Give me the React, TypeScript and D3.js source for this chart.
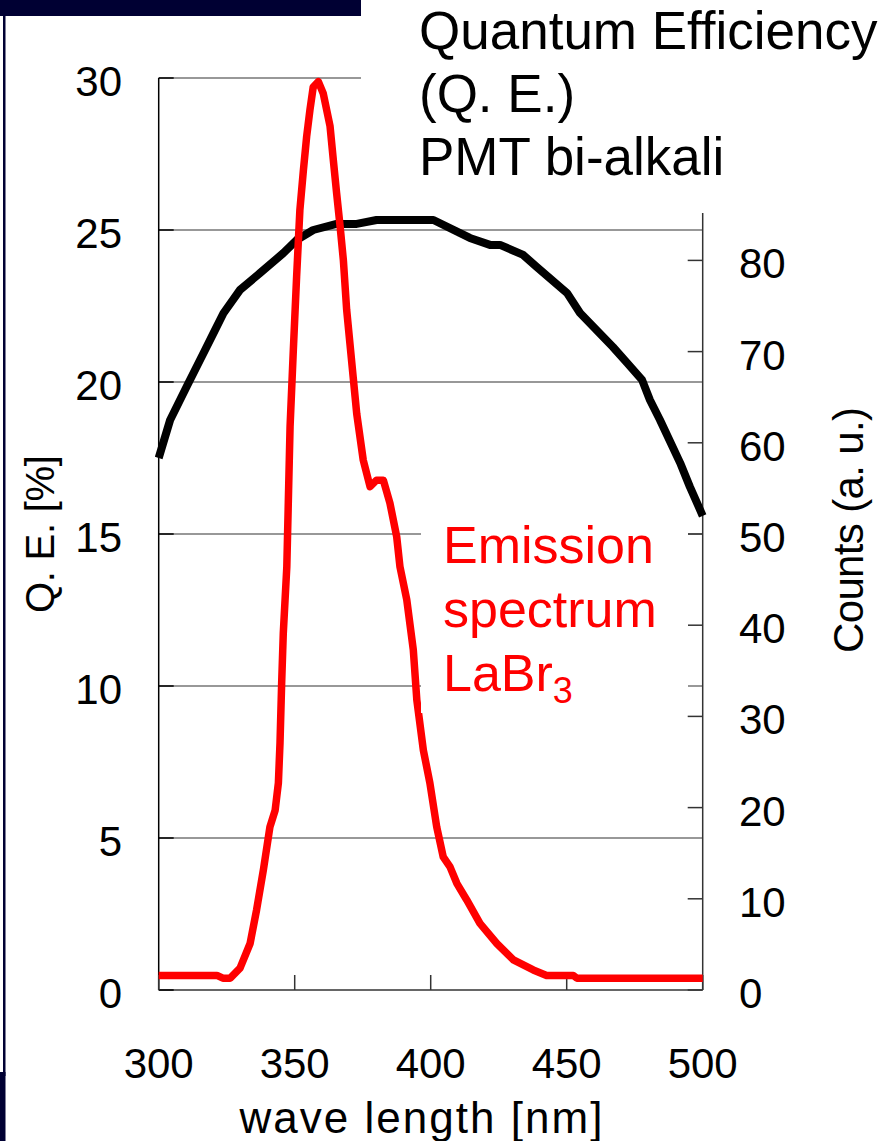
import React from "react";
import * as d3 from "d3";

// Quantum efficiency of bi-alkali PMT (left axis, %)
const qeWavelength = [300, 304.2, 310.3, 316.4, 320.1, 323.8, 329.9, 337.2, 345.8, 350.7, 356.8, 365.4, 372.8, 380.1, 401, 414.4, 421.8, 425.5, 434, 439, 450.1, 454.9, 467, 472.2, 477.7, 480.6, 484.3, 491.7, 495.3, 500];
const qeValues = [17.5, 18.75, 19.85, 20.94, 21.6, 22.26, 23.03, 23.58, 24.24, 24.67, 25.0, 25.2, 25.2, 25.33, 25.33, 24.74, 24.51, 24.51, 24.18, 23.78, 22.93, 22.27, 21.15, 20.63, 20.07, 19.41, 18.75, 17.34, 16.55, 15.6];

// LaBr3 emission spectrum (right axis, counts a.u.)
const emWavelength = [300, 321.4, 323.6, 326.3, 329.9, 333.6, 336.0, 338.5, 340.9, 342.8, 344.0, 344.6, 345.2, 345.8, 347.1, 348.3, 349.5, 350.7, 351.9, 353.2, 354.4, 355.6, 356.8, 358.7, 360.5, 363.0, 364.2, 365.4, 366.7, 367.9, 369.1, 370.3, 371.5, 372.8, 375.2, 377.7, 380.1, 382.6, 385.0, 387.5, 388.7, 391.2, 393.6, 394.9, 397.3, 399.7, 402.2, 404.6, 407.1, 409.6, 413.2, 418.1, 424.3, 430.4, 437.7, 442.6, 452.4, 453.7, 500];
const emCounts = [1.6, 1.6, 1.3, 1.3, 2.4, 5.1, 8.8, 13.2, 17.9, 19.7, 22.7, 27.1, 33.6, 39.1, 46.4, 61.8, 70.2, 78.2, 85.5, 89.9, 93.6, 96.5, 99.0, 99.6, 98.3, 94.7, 91.0, 87.4, 83.7, 80.0, 74.6, 70.9, 67.2, 63.2, 58.1, 55.2, 55.9, 55.9, 53.4, 49.7, 46.4, 42.8, 37.3, 31.8, 26.3, 22.7, 17.9, 14.6, 13.5, 11.7, 9.9, 7.3, 5.1, 3.3, 2.2, 1.6, 1.6, 1.3, 1.3];

const xTicks = [300, 350, 400, 450, 500];
const leftTicks = [0, 5, 10, 15, 20, 25, 30];
const rightTicks = [0, 10, 20, 30, 40, 50, 60, 70, 80];

const titleLines = ["Quantum Efficiency", "(Q. E.)", "PMT bi-alkali"];
const emissionLines = ["Emission", "spectrum"];

export default function App() {
  const x = d3.scaleLinear().domain([300, 500]).range([158.7, 702.7]);
  const yL = d3.scaleLinear().domain([0, 30]).range([990, 78]);
  const yR = d3.scaleLinear().domain([0, 100]).range([990, 78]);

  const qeLine = d3
    .line<number>()
    .x((_, i) => x(qeWavelength[i]))
    .y((d) => yL(d))
    .curve(d3.curveLinear);
  const emLine = d3
    .line<number>()
    .x((_, i) => x(emWavelength[i]))
    .y((d) => yR(d))
    .curve(d3.curveLinear);

  const sans = "'Liberation Sans', Arial, sans-serif";
  const x0 = x(300);
  const x1 = x(500);
  const yb = yL(0);
  const navy = "#000033";

  return (
    <svg
      width={886}
      height={1141}
      viewBox="0 0 886 1141"
      style={{ position: "absolute", left: 0, top: 0, background: "#fff" }}
    >
      <rect x={0} y={0} width={886} height={1141} fill="#fff" />
      {/* frame decorations */}
      <rect x={0} y={0} width={361} height={16} fill={navy} />
      <rect x={3} y={16} width={2.5} height={1060} fill={navy} />
      <rect x={0} y={1072} width={5.5} height={69} fill={navy} />

      {/* gridlines */}
      {leftTicks.slice(1).map((t) => (
        <line key={"g" + t} x1={x0} x2={x1} y1={yL(t)} y2={yL(t)} stroke="#333" strokeWidth={1.2} />
      ))}

      {/* axes */}
      <line x1={x0} x2={x0} y1={yL(30)} y2={yb} stroke="#000" strokeWidth={1.5} />
      <line x1={x0} x2={x1} y1={yb} y2={yb} stroke="#333" strokeWidth={1.5} />
      <line x1={x1} x2={x1} y1={yb} y2={yR(85.2)} stroke="#333" strokeWidth={1.5} />

      {/* left ticks (inward) */}
      {leftTicks.map((t) => (
        <line key={"lt" + t} x1={x0} x2={x0 + 15} y1={yL(t)} y2={yL(t)} stroke="#000" strokeWidth={1.5} />
      ))}
      {/* bottom ticks (inward) */}
      {xTicks.map((t) => (
        <line key={"bt" + t} x1={x(t)} x2={x(t)} y1={yb} y2={yb - 15} stroke="#333" strokeWidth={1.5} />
      ))}
      {/* right ticks (inward) */}
      {rightTicks.map((t) => (
        <line key={"rt" + t} x1={x1 - 15} x2={x1} y1={yR(t)} y2={yR(t)} stroke="#333" strokeWidth={1.5} />
      ))}

      {/* curves */}
      <path d={qeLine(qeValues) || ""} fill="none" stroke="#000" strokeWidth={8} strokeLinejoin="round" />
      <path d={emLine(emCounts) || ""} fill="none" stroke="#ff0000" strokeWidth={7.5} strokeLinejoin="round" />

      {/* text boxes (white background) */}
      <rect x={361} y={0} width={525} height={213} fill="#fff" />
      <rect x={421} y={505} width={267} height={208} fill="#fff" />

      {/* tick labels */}
      {leftTicks.map((t) => (
        <text key={"ll" + t} x={122} y={yL(t) + 18} textAnchor="end" fontFamily={sans} fontSize={42} fill="#000">
          {t}
        </text>
      ))}
      {rightTicks.map((t) => (
        <text key={"rl" + t} x={739} y={yR(t) + 18} textAnchor="start" fontFamily={sans} fontSize={42} fill="#000">
          {t}
        </text>
      ))}
      {xTicks.map((t) => (
        <text key={"xl" + t} x={x(t)} y={1078} textAnchor="middle" fontFamily={sans} fontSize={42} fill="#000">
          {t}
        </text>
      ))}

      {/* axis titles */}
      <text x={421} y={1133} textAnchor="middle" fontFamily={sans} fontSize={44} textLength={363} lengthAdjust="spacing" fill="#000">
        wave length [nm]
      </text>
      <text transform="translate(54,534) rotate(-90)" textAnchor="middle" fontFamily={sans} fontSize={40} textLength={158} lengthAdjust="spacing" fill="#000">
        Q. E. [%]
      </text>
      <text transform="translate(863,530) rotate(-90)" textAnchor="middle" fontFamily={sans} fontSize={42} textLength={246} lengthAdjust="spacing" fill="#000">
        Counts (a. u.)
      </text>

      {/* annotations */}
      {titleLines.map((s, i) => (
        <text key={"t" + i} x={419} y={49 + i * 63} fontFamily={sans} fontSize={53} fill="#000">
          {s}
        </text>
      ))}
      {emissionLines.map((s, i) => (
        <text key={"e" + i} x={443} y={563 + i * 64} fontFamily={sans} fontSize={52} fill="#ff0000">
          {s}
        </text>
      ))}
      <text x={443} y={691} fontFamily={sans} fontSize={52} fill="#ff0000">
        LaBr
        <tspan fontSize={36} dy={12}>3</tspan>
      </text>
    </svg>
  );
}
